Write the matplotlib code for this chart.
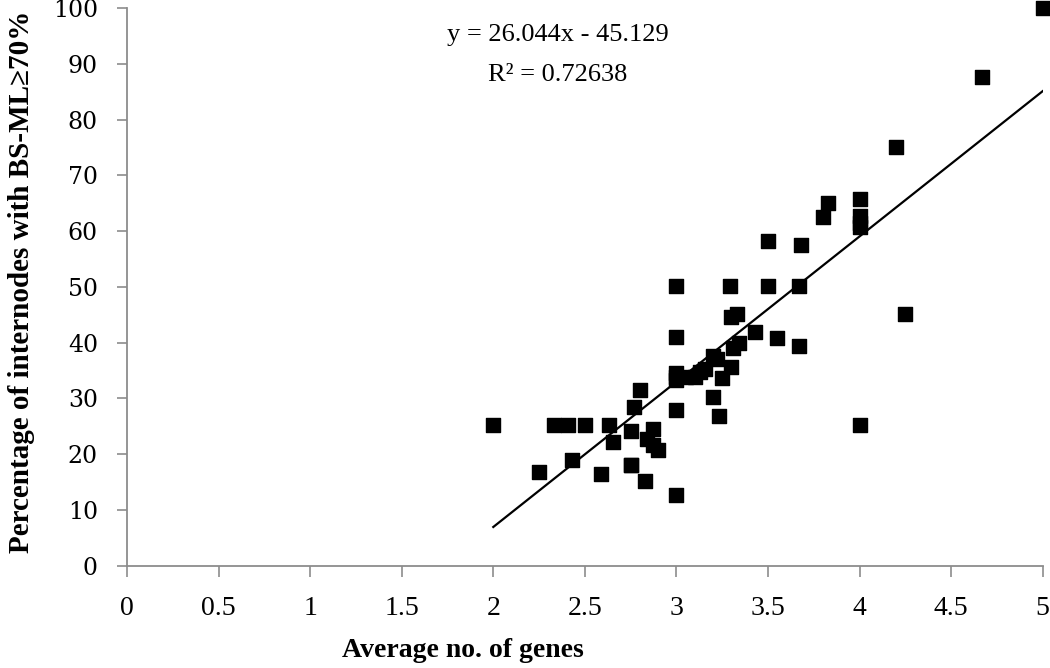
import numpy as np
import matplotlib.pyplot as plt

# Дані
avg_genes = [2.0, 2.25, 2.33, 2.41, 2.43, 2.5, 2.59, 2.63, 2.655, 2.75, 2.75, 2.75,
             2.77, 2.80, 2.83, 2.84, 2.87, 2.87, 2.90,
             3.0, 3.0, 3.0, 3.0, 3.0, 3.0, 3.0, 3.05, 3.10, 3.13, 3.155,
             3.20, 3.20, 3.22, 3.23, 3.25, 3.29, 3.30, 3.30, 3.31, 3.34, 3.33,
             3.43, 3.50, 3.50, 3.55, 3.67, 3.67, 3.68, 3.80, 3.83,
             4.0, 4.0, 4.0, 4.0, 4.0, 4.2, 4.25, 4.67, 5.0]
pct_internodes = [25.2, 16.8, 25.2, 25.2, 19.0, 25.2, 16.5, 25.2, 22.2, 24.2, 18.1, 18.0,
                  28.4, 31.5, 15.2, 22.7, 24.6, 21.7, 20.7,
                  50.2, 41.0, 34.5, 33.3, 28.0, 12.7, 33.9, 33.9, 33.9, 34.8, 35.2,
                  37.6, 30.3, 37.0, 26.8, 33.6, 50.2, 44.6, 35.6, 39.0, 39.9, 45.2,
                  41.9, 50.2, 58.3, 40.8, 50.2, 39.4, 57.6, 62.6, 65.1,
                  65.7, 62.8, 61.5, 60.8, 25.2, 75.1, 45.1, 87.6, 100.0]

slope = 26.044
intercept = -45.129
r2 = 0.72638

plt.rcParams['font.family'] = ['Liberation Serif', 'DejaVu Serif']

fig = plt.figure(figsize=(10.5, 6.68), dpi=100)
ax = fig.add_axes([0.121, 0.153, 0.872, 0.835])

ax.scatter(avg_genes, pct_internodes, marker='s', s=110, color='black', zorder=3,
           clip_on=False)

# Лінія тренду
x_fit = np.array([2.0, 5.0])
ax.plot(x_fit, slope * x_fit + intercept, color='black', linewidth=1.6, zorder=2)

ax.text(2.35, 95.1, f"y = {slope}x - {abs(intercept)}", ha='center', va='center',
        fontsize=19)
ax.text(2.35, 88.0, f"R² = {r2}", ha='center', va='center', fontsize=19)

ax.set_xlim(0, 5)
ax.set_ylim(0, 100)
ax.set_xticks(np.arange(0, 5.01, 0.5))
ax.set_xticklabels(['0', '0.5', '1', '1.5', '2', '2.5', '3', '3.5', '4', '4.5', '5'])
ax.set_yticks(np.arange(0, 101, 10))

for side in ['top', 'right']:
    ax.spines[side].set_visible(False)
for side in ['left', 'bottom']:
    ax.spines[side].set_color('#8c8c8c')
    ax.spines[side].set_linewidth(1.3)

ax.tick_params(axis='x', direction='out', length=8, color='#8c8c8c', width=1.2,
               labelsize=20, pad=14)
ax.tick_params(axis='y', direction='out', length=7, color='#8c8c8c', width=1.2, pad=14)
for lbl in ax.get_yticklabels():
    lbl.set_fontfamily('DejaVu Serif')
    lbl.set_fontsize(17)

ax.set_xlabel('Average no. of genes', fontsize=20, fontweight='bold')
ax.xaxis.set_label_coords(0.367, -0.13)
ax.set_ylabel('Percentage of internodes with BS-ML≥70%', fontsize=21, fontweight='bold')
ax.yaxis.set_label_coords(-0.1, 0.51)

fig.savefig('out.png', dpi=100)
